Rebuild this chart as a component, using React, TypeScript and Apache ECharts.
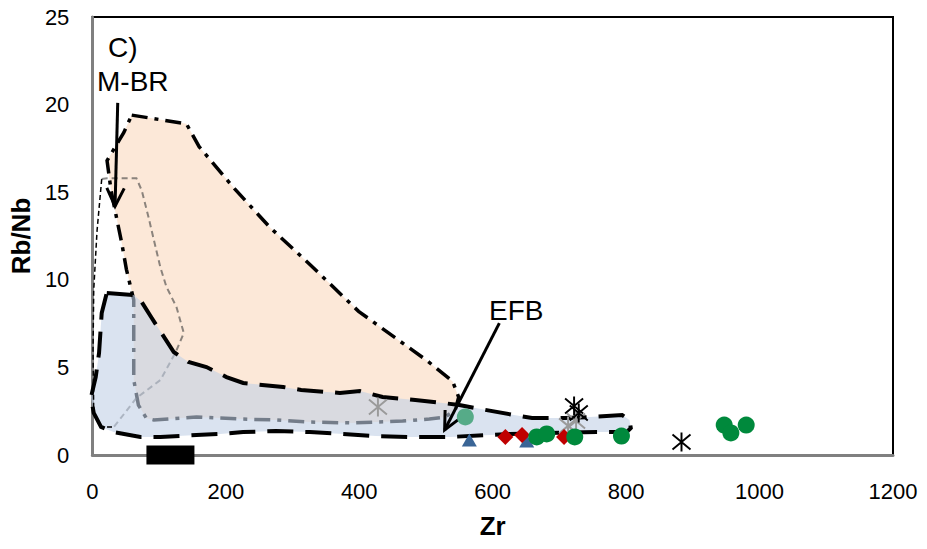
import React, { useEffect, useRef } from "react";
import * as echarts from "echarts";

// Axis ticks
const X_TICKS = [0, 200, 400, 600, 800, 1000, 1200];
const Y_TICKS = [0, 5, 10, 15, 20, 25];

// Field outlines (Zr, Rb/Nb)
const CBR_FIELD = [
  [59, 19.4], [141, 18.9], [160, 17.6], [213, 15.2], [266, 13.0], [328, 10.8],
  [399, 8.2], [501, 5.4], [540, 4.2], [549, 3.3], [544, 2.57], [529, 2.17],
  [505, 2.05], [465, 1.94], [425, 1.88], [390, 1.83], [326, 1.88], [275, 2.0],
  [226, 2.05], [156, 2.17], [92, 2.0], [81, 2.1], [69, 2.85], [62, 4.3],
  [62, 8.85], [51, 10.6], [44, 12.1], [37, 13.4], [28, 15.1], [22, 16.8], [47, 18.4],
];

const EFB_FIELD = [
  [21.6, 9.25], [62, 9.13], [74, 8.73], [89, 7.82], [122, 5.88], [144, 5.31],
  [171, 5.02], [201, 4.45], [226, 4.11], [286, 3.88], [313, 3.71], [371, 3.54],
  [401, 3.65], [435, 3.31], [484, 3.14], [525, 2.97], [550, 2.85], [574, 2.68],
  [632, 2.28], [659, 2.11], [708, 2.11], [746, 2.17], [794, 2.28], [805, 2.0],
  [807, 1.54], [801, 1.31], [756, 1.31], [686, 1.26], [625, 1.2], [537, 1.03],
  [475, 1.03], [425, 1.08], [375, 1.2], [326, 1.31], [275, 1.37], [226, 1.31],
  [192, 1.2], [156, 1.14], [102, 1.03], [72, 1.03], [32, 1.31], [13, 1.6],
  [2, 2.4], [-2, 3.3], [5, 4.45], [10, 5.82], [14, 8.1],
];

const MBR_RIGHT = [
  [14, 15.75], [22, 15.8], [66, 15.8], [74, 15.1], [84, 13.6], [92, 12.3],
  [102, 10.7], [111, 9.6], [126, 8.45], [137, 6.96], [125, 5.88], [102, 4.28],
  [66, 3.25], [37, 1.83], [32, 1.6],
];

const MBR_LEFT = [
  [14, 15.75], [7, 12.8], [2, 9.4], [1, 6.0], [2, 2.4], [13, 1.6], [32, 1.6],
];

// Samples
const GREEN_CIRCLES = [[666, 1.03], [681, 1.2], [723, 1.03], [793, 1.08], [947, 1.71], [957, 1.26], [980, 1.71]];
const TEAL_CIRCLES = [[559, 2.17]];
const RED_DIAMONDS = [[619, 1.03], [644, 1.14], [707, 1.03]];
const BLUE_TRIANGLES = [[565, 0.86], [651, 0.8]];
const BLACK_ASTERISKS = [[722, 2.8], [729, 2.4], [883, 0.74]];
const GRAY_ASTERISKS = [[428, 2.74], [713, 1.66], [725, 1.94]];
const BLACK_BAR = [[117, 0]];

// Arrows: [fromZr, fromRbNb, toZr, toRbNb]
const ARROWS = [
  [38, 20.1, 34, 14.2],
  [610, 7.53, 528, 1.43],
];

const FONT = "'Liberation Sans', Arial, sans-serif";
const ASTERISK = "path://M0,2L18,17M18,2L0,17M9,0L9,19";

function shapeSeries(name: string, pts: number[][], kind: string, style: any, z: number) {
  return {
    type: "custom",
    name,
    coordinateSystem: "cartesian2d",
    clip: false,
    silent: true,
    z,
    data: pts,
    renderItem: (params: any, api: any) => {
      if (params.dataIndex !== 0) return null;
      const points = pts.map((p) => api.coord(p));
      return { type: kind, shape: { points }, style };
    },
  };
}

export default function App() {
  const ref = useRef<HTMLDivElement>(null);
  useEffect(() => {
    document.body.style.margin = "0";
    const chart = echarts.init(ref.current!, null, { renderer: "svg" });
    const option: any = {
      animation: false,
      backgroundColor: "#fff",
      grid: {
        left: 88, right: 34, top: 17, bottom: 94,
        show: true, borderColor: "#000", borderWidth: 2, backgroundColor: "transparent",
      },
      xAxis: {
        type: "value",
        min: X_TICKS[0], max: X_TICKS[X_TICKS.length - 1], interval: X_TICKS[1] - X_TICKS[0],
        name: "Zr", nameLocation: "middle", nameGap: 58,
        nameTextStyle: { fontFamily: FONT, fontSize: 26, fontWeight: "bold", color: "#000" },
        axisLine: { show: true, lineStyle: { color: "#808080", width: 3 } },
        axisTick: { show: false },
        splitLine: { show: false },
        axisLabel: { fontFamily: FONT, fontSize: 22, color: "#000", margin: 25, formatter: (v: number) => String(v) },
      },
      yAxis: {
        type: "value",
        min: Y_TICKS[0], max: Y_TICKS[Y_TICKS.length - 1], interval: Y_TICKS[1] - Y_TICKS[0],
        name: "Rb/Nb", nameLocation: "middle", nameGap: 54,
        nameTextStyle: { fontFamily: FONT, fontSize: 26, fontWeight: "bold", color: "#000" },
        axisLine: { show: true, lineStyle: { color: "#808080", width: 3 } },
        axisTick: { show: false },
        splitLine: { show: false },
        axisLabel: { fontFamily: FONT, fontSize: 22, color: "#000", margin: 23, formatter: (v: number) => String(v) },
      },
      graphic: [
        { type: "text", left: 108, top: 33, style: { text: "C)", font: `28px ${FONT}`, fill: "#000" } },
        { type: "text", left: 97, top: 67, style: { text: "M-BR", font: `28px ${FONT}`, fill: "#000" } },
        { type: "text", left: 177, top: 238, style: { text: "C-BR", font: `28px ${FONT}`, fill: "#000" } },
        { type: "text", left: 489, top: 296, style: { text: "EFB", font: `28px ${FONT}`, fill: "#000" } },
      ],
      series: [
        shapeSeries("C-BR", CBR_FIELD, "polygon", {
          fill: "#fce8d8", stroke: "#000", lineWidth: 3.5, lineDash: [16, 7, 4, 7], lineCap: "butt",
        }, 1),
        shapeSeries("M-BR inner", MBR_RIGHT, "polyline", {
          fill: null, stroke: "rgba(64,64,64,0.6)", lineWidth: 2, lineDash: [6, 4],
        }, 2),
        shapeSeries("EFB", EFB_FIELD, "polygon", {
          fill: "rgba(193,208,230,0.6)", stroke: "#000", lineWidth: 4, lineDash: [26, 12], lineCap: "butt",
        }, 3),
        shapeSeries("M-BR outer", MBR_LEFT, "polyline", {
          fill: null, stroke: "#000", lineWidth: 1.5, lineDash: [5, 3],
        }, 4),
        {
          type: "custom", name: "arrows", coordinateSystem: "cartesian2d", clip: false, silent: true, z: 5,
          data: ARROWS,
          renderItem: (params: any, api: any) => {
            const a = api.coord([api.value(0), api.value(1)]);
            const b = api.coord([api.value(2), api.value(3)]);
            const ang = Math.atan2(b[1] - a[1], b[0] - a[0]);
            const L = 20, s = 0.45;
            const h1 = [b[0] - L * Math.cos(ang - s), b[1] - L * Math.sin(ang - s)];
            const h2 = [b[0] - L * Math.cos(ang + s), b[1] - L * Math.sin(ang + s)];
            return {
              type: "group",
              children: [
                { type: "line", shape: { x1: a[0], y1: a[1], x2: b[0], y2: b[1] }, style: { stroke: "#000", lineWidth: 3 } },
                { type: "polyline", shape: { points: [h1, b, h2] }, style: { stroke: "#000", lineWidth: 3, fill: null } },
              ],
            };
          },
        },
        { type: "scatter", name: "bar", data: BLACK_BAR, symbol: "rect", symbolSize: [48, 19], clip: false, z: 6,
          itemStyle: { color: "#000", opacity: 1 } },
        { type: "scatter", name: "teal", data: TEAL_CIRCLES, symbol: "circle", symbolSize: 17, z: 6,
          itemStyle: { color: "#56ab88", opacity: 1 } },
        { type: "scatter", name: "gray ast", data: GRAY_ASTERISKS, symbol: ASTERISK, symbolSize: [18, 19], z: 6,
          itemStyle: { color: "rgba(0,0,0,0)", borderColor: "#9a9a9a", borderWidth: 2, opacity: 1 } },
        { type: "scatter", name: "triangles", data: BLUE_TRIANGLES, symbol: "triangle", symbolSize: [15, 13], z: 7,
          itemStyle: { color: "#3a6596", opacity: 1 } },
        { type: "scatter", name: "diamonds", data: RED_DIAMONDS, symbol: "diamond", symbolSize: [16, 16], z: 7,
          itemStyle: { color: "#c00000", opacity: 1 } },
        { type: "scatter", name: "green", data: GREEN_CIRCLES, symbol: "circle", symbolSize: 17, z: 7,
          itemStyle: { color: "#00893c", opacity: 1 } },
        { type: "scatter", name: "black ast", data: BLACK_ASTERISKS, symbol: ASTERISK, symbolSize: [18, 19], z: 8,
          itemStyle: { color: "rgba(0,0,0,0)", borderColor: "#000", borderWidth: 2, opacity: 1 } },
      ],
    };
    chart.setOption(option);
    return () => chart.dispose();
  }, []);
  return <div ref={ref} style={{ position: "fixed", left: 0, top: 0, width: 927, height: 549 }} />;
}
